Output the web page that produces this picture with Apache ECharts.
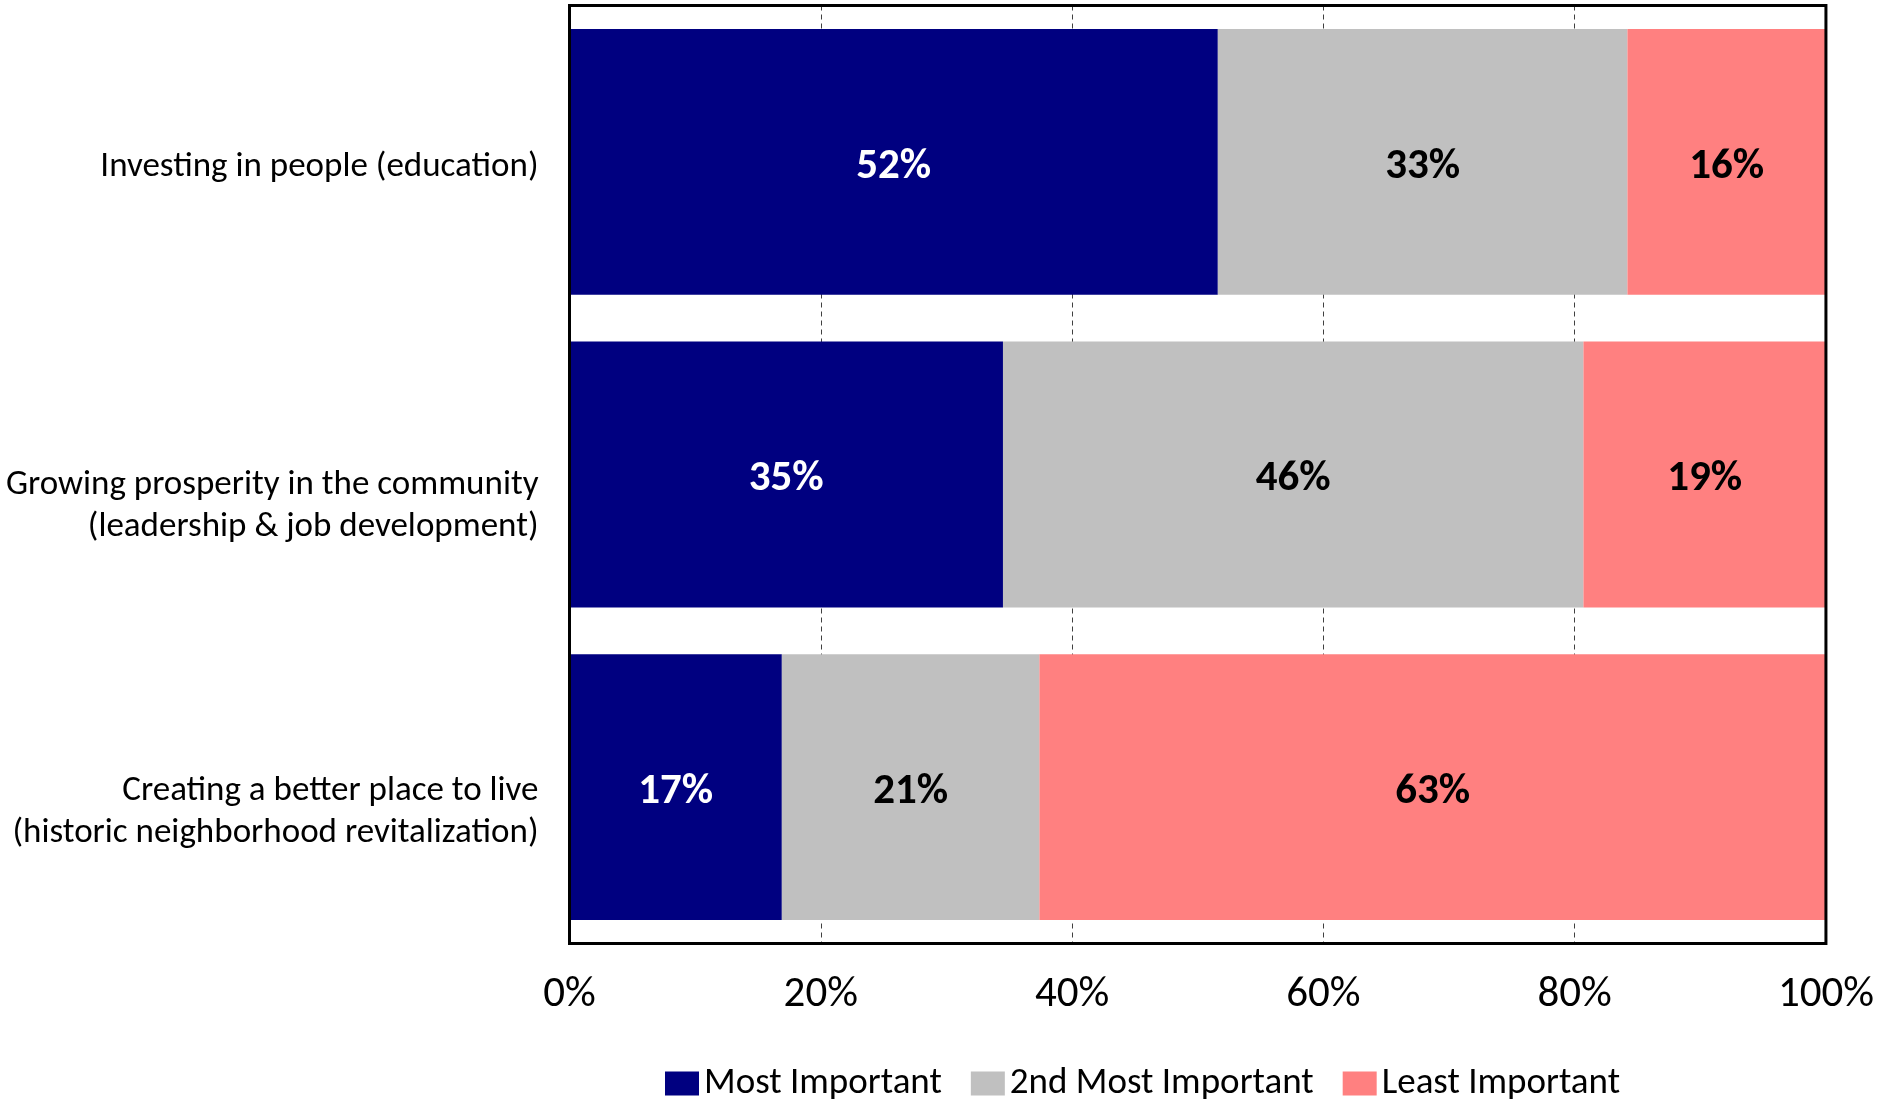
<!DOCTYPE html>
<html>
<head>
<meta charset="utf-8">
<script src="https://cdn.jsdelivr.net/npm/echarts@6/dist/echarts.min.js"></script>
<style>
html,body{margin:0;padding:0;background:#fff;}
#chart{width:1877px;height:1102px;}
</style>
</head>
<body>
<div id="chart"></div>
<script>
var categories = [
  'Investing in people (education)',
  'Growing prosperity in the community\n(leadership & job development)',
  'Creating a better place to live\n(historic neighborhood revitalization)'
];
var seriesNames = ['Most Important', '2nd Most Important', 'Least Important'];
var mostImportant = [51.6, 34.5, 16.9];
var secondMostImportant = [32.6, 46.2, 20.5];
var leastImportant = [15.8, 19.3, 62.6];
var xTicks = [0, 20, 40, 60, 80, 100];

var FONT = 'Carlito, Lato, "Open Sans", sans-serif';
var colors = ['#000080', '#C0C0C0', '#FF8080'];
var labelColors = ['#ffffff', '#000000', '#000000'];
var values = [mostImportant, secondMostImportant, leastImportant];

var chart = echarts.init(document.getElementById('chart'));
chart.setOption({
  animation: false,
  backgroundColor: '#ffffff',
  grid: {
    left: 569.5, right: 48.5, top: 5.5, bottom: 158.5,
    show: true, borderColor: '#000000', borderWidth: 3, z: 10,
    backgroundColor: 'transparent'
  },
  legend: {
    data: seriesNames,
    left: 660, top: 1060,
    itemWidth: 34, itemHeight: 24, itemGap: 29,
    icon: 'rect',
    textStyle: { fontFamily: FONT, fontSize: 37, color: '#000' }
  },
  xAxis: {
    type: 'value', min: xTicks[0], max: xTicks[xTicks.length - 1], interval: 20,
    axisLine: { show: false },
    axisTick: { show: false },
    axisLabel: {
      margin: 30, fontFamily: FONT, fontSize: 43, color: '#000',
      formatter: function (v) { return v + '%'; }
    },
    splitLine: {
      show: true,
      lineStyle: { color: '#404040', width: 1, type: [5, 4] }
    }
  },
  yAxis: {
    type: 'category', inverse: true, data: categories,
    axisLine: { show: false },
    axisTick: { show: false },
    axisLabel: {
      margin: 31, fontFamily: FONT, fontSize: 35, color: '#000', lineHeight: 42,
      align: 'right',
      formatter: function (v, idx) { return '{g' + idx + '| }\n' + v; },
      rich: {
        g0: { fontSize: 1, lineHeight: 10, height: 10 },
        g1: { fontSize: 1, lineHeight: 64, height: 64 },
        g2: { fontSize: 1, lineHeight: 50, height: 50 }
      }
    }
  },
  series: seriesNames.map(function (name, i) {
    return {
      name: name, type: 'bar', stack: 'total',
      data: values[i],
      barCategoryGap: '15%',
      itemStyle: { color: colors[i] },
      label: {
        show: true, position: 'inside', offset: [0, 5],
        fontFamily: FONT, fontSize: 43, fontWeight: 'bold', color: labelColors[i],
        formatter: function (p) { return Math.round(p.value) + '%'; }
      }
    };
  })
});
</script>
</body>
</html>
